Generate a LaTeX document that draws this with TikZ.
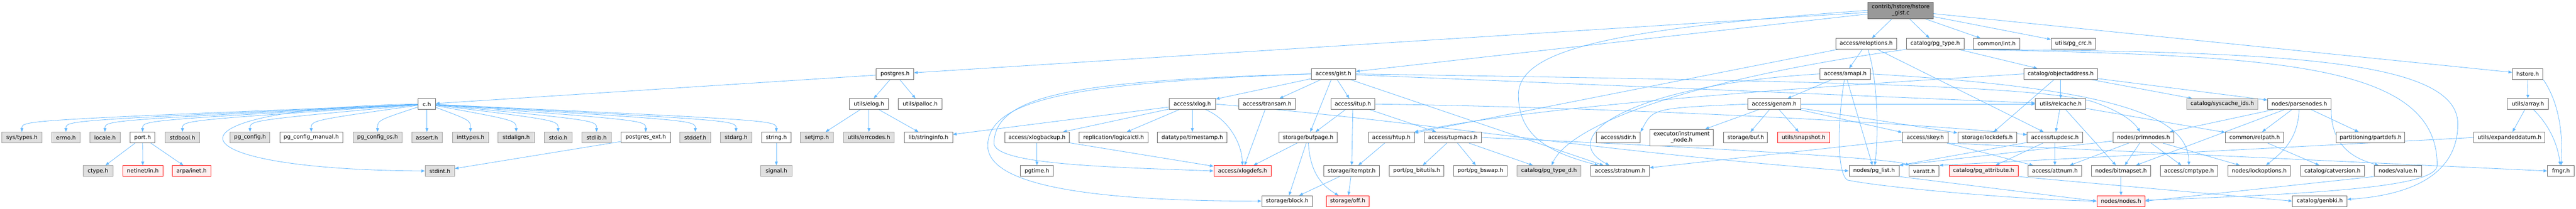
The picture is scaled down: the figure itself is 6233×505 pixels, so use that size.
\documentclass[tikz,border=0pt]{standalone}
\usepackage{fontspec}
\setmainfont{DejaVu Sans}
\usetikzlibrary{arrows.meta,calc}
\definecolor{depblue}{HTML}{63B8FF}
\newcommand{\hdrfont}{\fontsize{13.3}{15}\selectfont}
\pgfdeclarelayer{edges}
\pgfsetlayers{edges,main}
\tikzset{%
	hdr/.style      = {draw=black!60, fill=white, line width=1.2pt, minimum height=26pt, inner sep=0pt, font=\hdrfont},
	syshdr/.style   = {hdr, draw=black!40, fill=black!12},
	cuthdr/.style   = {hdr, draw=red, fill=red!6},
	twoline/.style  = {minimum height=40pt, align=center},
	rootfile/.style = {hdr, twoline, fill=black!40},
	dep/.style      = {depblue, line width=1pt, -{Triangle[length=9pt,width=7pt]}},
}

\begin{document}
\begin{tikzpicture}[x=1pt,y=-1pt]
\useasboundingbox (0,0) rectangle (6233,505);
% row 0
\node[rootfile, minimum width=158pt] (root) at (4599,25) {contrib/hstore/hstore\\\_gist.c};
% row 1
\node[hdr, minimum width=147pt] (reloptions) at (4515.5,106) {access/reloptions.h};
\node[hdr, minimum width=139pt] (pgtype) at (4682.5,106) {catalog/pg\_type.h};
\node[hdr, minimum width=112pt] (commonint) at (4831,106) {common/int.h};
\node[hdr, minimum width=108pt] (pgcrc) at (5017,106) {utils/pg\_crc.h};
% row 2
\node[hdr, minimum width=91pt] (postgres) at (2165.5,179) {postgres.h};
\node[hdr, minimum width=107pt] (gist) at (3226.5,179) {access/gist.h};
\node[hdr, minimum width=122pt] (amapi) at (4465,179) {access/amapi.h};
\node[hdr, minimum width=178pt] (objaddr) at (4986,179) {catalog/objectaddress.h};
\node[hdr, minimum width=74pt] (hstoreh) at (6116,179) {hstore.h};
% row 3
\node[hdr, minimum width=42pt] (ch) at (1033,252) {c.h};
\node[hdr, minimum width=95pt] (elog) at (2102.5,252) {utils/elog.h};
\node[hdr, minimum width=105pt] (palloc) at (2226.5,252) {utils/palloc.h};
\node[hdr, minimum width=112pt] (xlog) at (2885,252) {access/xlog.h};
\node[hdr, minimum width=136pt] (transam) at (3066,252) {access/transam.h};
\node[hdr, minimum width=107pt] (itup) at (3273.5,252) {access/itup.h};
\node[hdr, minimum width=128pt] (genam) at (4293,252) {access/genam.h};
\node[hdr, minimum width=122pt] (relcache) at (4986,252) {utils/relcache.h};
\node[syshdr, minimum width=172pt] (syscache) at (5377,252) {catalog/syscache\_ids.h};
\node[hdr, minimum width=153pt] (parsenodes) at (5563.5,252) {nodes/parsenodes.h};
\node[hdr, minimum width=99pt] (array) at (6116.5,252) {utils/array.h};
% row 4
\node[syshdr, minimum width=97pt] (systypes) at (53,333) {sys/types.h};
\node[syshdr, minimum width=69pt] (errno) at (159.5,333) {errno.h};
\node[syshdr, minimum width=74pt] (locale) at (254,333) {locale.h};
\node[hdr, minimum width=60pt] (port) at (345,333) {port.h};
\node[syshdr, minimum width=83pt] (stdbool) at (441.5,333) {stdbool.h};
\node[syshdr, minimum width=96pt] (pgconfig) at (605,333) {pg\_config.h};
\node[hdr, minimum width=152pt] (pgcfgman) at (753,333) {pg\_config\_manual.h};
\node[syshdr, minimum width=119pt] (pgcfgos) at (913.5,333) {pg\_config\_os.h};
\node[syshdr, minimum width=74pt] (assert) at (1033,333) {assert.h};
\node[syshdr, minimum width=87pt] (inttypes) at (1138.5,333) {inttypes.h};
\node[syshdr, minimum width=88pt] (stdalign) at (1249,333) {stdalign.h};
\node[syshdr, minimum width=67pt] (stdio) at (1350.5,333) {stdio.h};
\node[syshdr, minimum width=71pt] (stdlib) at (1443.5,333) {stdlib.h};
\node[hdr, minimum width=119pt] (pgext) at (1562.5,333) {postgres\_ext.h};
\node[syshdr, minimum width=75pt] (stddef) at (1682.5,333) {stddef.h};
\node[syshdr, minimum width=76pt] (stdarg) at (1781,333) {stdarg.h};
\node[hdr, minimum width=71pt] (string) at (1878.5,333) {string.h};
\node[syshdr, minimum width=79pt] (setjmp) at (1976.5,333) {setjmp.h};
\node[syshdr, minimum width=123pt] (errcodes) at (2102.5,333) {utils/errcodes.h};
\node[hdr, minimum width=117pt] (stringinfo) at (2246.5,333) {lib/stringinfo.h};
\node[hdr, minimum width=156pt] (xlogbackup) at (2509,333) {access/xlogbackup.h};
\node[hdr, minimum width=167pt] (logicalctl) at (2694.5,333) {replication/logicalctl.h};
\node[hdr, minimum width=168pt] (timestamp) at (2885,333) {datatype/timestamp.h};
\node[hdr, minimum width=140pt] (bufpage) at (3165,333) {storage/bufpage.h};
\node[hdr, minimum width=111pt] (htup) at (3366.5,333) {access/htup.h};
\node[hdr, minimum width=139pt] (tupmacs) at (3515.5,333) {access/tupmacs.h};
\node[hdr, minimum width=106pt] (sdir) at (3916,333) {access/sdir.h};
\node[hdr, twoline, minimum width=154pt] (instr) at (4069,333) {executor/instrument\\\_node.h};
\node[hdr, minimum width=106pt] (buf) at (4224,333) {storage/buf.h};
\node[cuthdr, minimum width=126pt] (snapshot) at (4364,333) {utils/snapshot.h};
\node[hdr, minimum width=111pt] (skey) at (4658.5,333) {access/skey.h};
\node[hdr, minimum width=143pt] (lockdefs) at (4808.5,333) {storage/lockdefs.h};
\node[hdr, minimum width=134pt] (tupdesc) at (4972,333) {access/tupdesc.h};
\node[hdr, minimum width=147pt] (primnodes) at (5186.5,333) {nodes/primnodes.h};
\node[hdr, minimum width=141pt] (relpath) at (5455.5,333) {common/relpath.h};
\node[hdr, minimum width=166pt] (partdefs) at (5736,333) {partitioning/partdefs.h};
\node[hdr, minimum width=172pt] (expanded) at (6072,333) {utils/expandeddatum.h};
% row 5
\node[syshdr, minimum width=72pt] (ctype) at (237,414) {ctype.h};
\node[cuthdr, minimum width=97pt] (netinet) at (345.5,414) {netinet/in.h};
\node[cuthdr, minimum width=93pt] (arpa) at (463.5,414) {arpa/inet.h};
\node[syshdr, minimum width=71pt] (stdint) at (1064.5,414) {stdint.h};
\node[syshdr, minimum width=75pt] (signal) at (1878.5,414) {signal.h};
\node[hdr, minimum width=80pt] (pgtime) at (2509,414) {pgtime.h};
\node[cuthdr, minimum width=139pt] (xlogdefs) at (3006.5,414) {access/xlogdefs.h};
\node[hdr, minimum width=135pt] (itemptr) at (3270.5,414) {storage/itemptr.h};
\node[hdr, minimum width=132pt] (bitutils) at (3428,414) {port/pg\_bitutils.h};
\node[hdr, minimum width=130pt] (bswap) at (3582,414) {port/pg\_bswap.h};
\node[syshdr, minimum width=154pt] (pgtyped) at (3748,414) {catalog/pg\_type\_d.h};
\node[hdr, minimum width=142pt] (stratnum) at (3920,414) {access/stratnum.h};
\node[hdr, minimum width=121pt] (pglist) at (4534.5,414) {nodes/pg\_list.h};
\node[hdr, minimum width=73pt] (varatt) at (4655.5,414) {varatt.h};
\node[cuthdr, minimum width=167pt] (pgattr) at (4799.5,414) {catalog/pg\_attribute.h};
\node[hdr, minimum width=130pt] (attnum) at (4972,414) {access/attnum.h};
\node[hdr, minimum width=144pt] (bitmapset) at (5132,414) {nodes/bitmapset.h};
\node[hdr, minimum width=139pt] (cmptype) at (5296.5,414) {access/cmptype.h};
\node[hdr, minimum width=151pt] (lockopt) at (5466.5,414) {nodes/lockoptions.h};
\node[hdr, minimum width=155pt] (catversion) at (5643.5,414) {catalog/catversion.h};
\node[hdr, minimum width=114pt] (value) at (5802,414) {nodes/value.h};
\node[hdr, minimum width=65pt] (fmgr) at (6196.5,414) {fmgr.h};
% row 6
\node[hdr, minimum width=123pt] (block) at (3114.5,487) {storage/block.h};
\node[cuthdr, minimum width=104pt] (off) at (3261,487) {storage/off.h};
\node[cuthdr, minimum width=116pt] (nodesh) at (5132,487) {nodes/nodes.h};
\node[hdr, minimum width=132pt] (genbki) at (5613,487) {catalog/genbki.h};

\begin{pgfonlayer}{edges}
\fill[white] (0,0) rectangle (6233,505);
% source file
\foreach \hd in {postgres,gist,reloptions,pgtype,commonint,pgcrc,hstoreh}
	\draw[dep] (root) -- (\hd);
\draw[dep] (root.west) .. controls (3900,70) and (3674,120) .. (3674,230) .. controls (3674,330) and (3750,370) .. (stratnum);
% postgres.h and c.h
\foreach \hd in {ch,elog,palloc}
	\draw[dep] (postgres) -- (\hd);
\foreach \hd in {systypes,errno,locale,port,stdbool,pgconfig,pgcfgman,pgcfgos,assert,inttypes,stdalign,stdio,stdlib,pgext,stddef,stdarg,string}
	\draw[dep] (ch) .. controls ($(\hd.north)+(0,-28)$) .. (\hd);
\draw[dep] (ch.west) .. controls (380,262) and (380,410) .. (stdint.west);
\foreach \hd in {ctype,netinet,arpa}
	\draw[dep] (port) -- (\hd);
\draw[dep] (pgext) -- (stdint);
\draw[dep] (string) -- (signal);
\foreach \hd in {setjmp,errcodes,stringinfo}
	\draw[dep] (elog) -- (\hd);
% access/gist.h
\foreach \hd in {xlog,transam,itup,bufpage,stratnum,relcache}
	\draw[dep] (gist) -- (\hd);
\draw[dep] (gist.west) .. controls (2600,195) and (2410,230) .. (2405,345) .. controls (2400,400) and (2700,405) .. (xlogdefs.west);
\draw[dep] (gist.west) .. controls (2600,200) and (2395,240) .. (2390,350) .. controls (2385,460) and (2700,487) .. (block.west);
\draw[dep] (gist.east) .. controls (4300,195) and (4900,205) .. (5060,245) .. controls (5120,265) and (5160,290) .. (primnodes);
% access/xlog.h
\foreach \hd in {stringinfo,xlogbackup,logicalctl,timestamp}
	\draw[dep] (xlog) -- (\hd);
\draw[dep] (xlog) .. controls (2975,290) and (3005,350) .. (xlogdefs);
\draw[dep] (xlog.east) .. controls (3500,300) and (3800,360) .. (pglist.west);
\draw[dep] (xlogbackup) -- (pgtime);
\draw[dep] (xlogbackup) -- (xlogdefs);
\draw[dep] (transam) -- (xlogdefs);
% access/itup.h and below
\foreach \hd in {bufpage,itemptr,tupmacs}
	\draw[dep] (itup) -- (\hd);
\draw[dep] (itup.east) .. controls (3900,260) and (4600,295) .. (tupdesc);
\foreach \hd in {xlogdefs,block}
	\draw[dep] (bufpage) -- (\hd);
\draw[dep] (bufpage) .. controls (3170,420) and (3200,450) .. (off);
\draw[dep] (htup) -- (itemptr);
\foreach \hd in {block,off}
	\draw[dep] (itemptr) -- (\hd);
\foreach \hd in {bitutils,bswap,pgtyped}
	\draw[dep] (tupmacs) -- (\hd);
\draw[dep] (tupmacs.east) .. controls (4200,360) and (4580,385) .. (varatt);
% access/reloptions.h
\foreach \hd in {amapi,htup,tupdesc}
	\draw[dep] (reloptions) -- (\hd);
\draw[dep] (reloptions) .. controls (4545,200) and (4545,330) .. (pglist);
% catalog/pg_type.h
\draw[dep] (pgtype) -- (objaddr);
\draw[dep] (pgtype.south west) .. controls (4100,190) and (3800,300) .. (pgtyped);
\draw[dep] (pgtype.south east) .. controls (5500,125) and (5947,140) .. (5947,300) .. controls (5947,440) and (5800,475) .. (genbki);
\draw[dep] (pgtype.south east) .. controls (5500,135) and (5897,150) .. (5897,400) .. controls (5897,450) and (5650,468) .. (nodesh);
% access/amapi.h
\draw[dep] (amapi) -- (genam);
\draw[dep] (amapi) -- (pglist);
\draw[dep] (amapi) .. controls (4445,300) and (4445,420) .. (4470,436) .. controls (4560,455) and (4900,484) .. (nodesh.west);
\draw[dep] (amapi.east) .. controls (5150,215) and (5295,290) .. (cmptype);
\draw[dep] (amapi.west) .. controls (3950,205) and (3760,330) .. (stratnum);
% access/genam.h
\foreach \hd in {buf,snapshot,skey,lockdefs,instr,relcache}
	\draw[dep] (genam) -- (\hd);
\draw[dep] (genam.west) .. controls (4000,262) .. (sdir.north east);
\foreach \hd in {attnum,stratnum}
	\draw[dep] (skey) -- (\hd);
\draw[dep] (skey.south east) -- (fmgr.west);
% catalog/objectaddress.h
\draw[dep] (objaddr.west) .. controls (4300,215) and (3700,260) .. (htup.north east);
\foreach \hd in {lockdefs,relcache,syscache,parsenodes}
	\draw[dep] (objaddr) -- (\hd);
% utils/relcache.h and nodes
\foreach \hd in {tupdesc,relpath,bitmapset}
	\draw[dep] (relcache) -- (\hd);
\foreach \hd in {attnum,pgattr}
	\draw[dep] (tupdesc) -- (\hd);
\draw[dep] (tupdesc) -- (pglist.north east);
\foreach \hd in {attnum,bitmapset,cmptype,lockopt}
	\draw[dep] (primnodes) -- (\hd);
\draw[dep] (primnodes) -- (pglist.north east);
\foreach \hd in {primnodes,bitmapset,relpath,partdefs}
	\draw[dep] (parsenodes) -- (\hd);
\draw[dep] (parsenodes) .. controls (5560,340) and (5520,370) .. (lockopt);
\draw[dep] (parsenodes.south east) .. controls (5640,370) and (5720,390) .. (value);
\draw[dep] (relpath) -- (catversion);
\draw[dep] (bitmapset) -- (nodesh);
\draw[dep] (value.south west) -- (nodesh.east);
\draw[dep] (pglist.south east) -- (nodesh.west);
\draw[dep] (pgattr.south east) -- (genbki.west);
% hstore.h
\draw[dep] (hstoreh) -- (array);
\draw[dep] (hstoreh.south east) .. controls (6200,260) and (6200,350) .. (fmgr);
\draw[dep] (array) -- (expanded);
\draw[dep] (array) .. controls (6175,310) and (6190,360) .. (fmgr);
\draw[dep] (expanded.west) -- (varatt.north east);
\end{pgfonlayer}
\end{tikzpicture}
\end{document}
